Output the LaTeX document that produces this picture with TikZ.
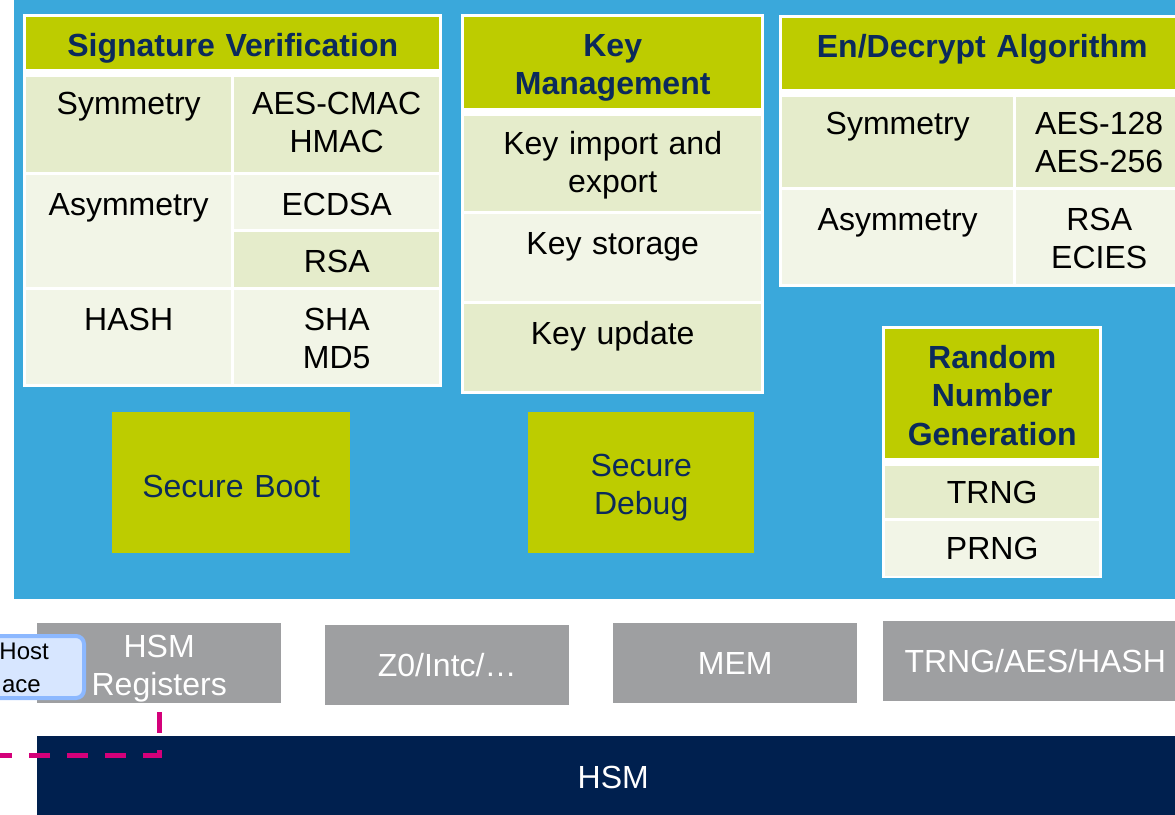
\documentclass[tikz,border=0pt]{standalone}
\usepackage{fontspec}
\setmainfont{Liberation Sans}
\definecolor{panel}{HTML}{3AA8DB}
\definecolor{hdgreen}{HTML}{BDCC00}
\definecolor{hdnavy}{HTML}{0B2A5B}
\definecolor{rowa}{HTML}{E5ECCB}
\definecolor{rowb}{HTML}{F2F5E7}
\definecolor{hwgray}{HTML}{9E9FA1}
\definecolor{barnavy}{HTML}{00204F}
\definecolor{linkpink}{HTML}{D4007A}
\definecolor{hostfill}{HTML}{D7E6FF}
\definecolor{hostline}{HTML}{8CB8FF}
\begin{document}
\begin{tikzpicture}[x=1pt, y=-1pt, every node/.style={font=\fontsize{32}{38}\selectfont}]
\tikzstyle{hd}=[anchor=north west, inner sep=0pt, fill=hdgreen, text=hdnavy, align=center, text height=39pt, font=\fontsize{32}{38.5}\selectfont\bfseries]
\tikzstyle{cell}=[anchor=north west, inner sep=0pt, align=center, text height=40pt]
\tikzstyle{row}=[anchor=north west, inner sep=0pt, align=center]
\tikzstyle{sec}=[anchor=north west, inner sep=0pt, fill=hdgreen, text=hdnavy, align=center]
\tikzstyle{hw}=[anchor=north west, inner sep=0pt, fill=hwgray, text=white, align=center, minimum width=244pt, minimum height=80pt]
\tikzstyle{link}=[linkpink, line width=5pt, dash pattern=on 21pt off 17pt]
    \clip (0,0) rectangle (1175,814);
    \fill[panel] (14,0) rectangle (1175,599);
    % signature verification
    \fill[white] (23,14) rectangle (442,387);
    \node [hd, text width=413pt, text depth=13pt] (sv) at (26,17) {Signature Verification};
    \node [cell, fill=rowa, text width=205pt, text height=37pt, text depth=58pt] (svsym) at (26,77) {Symmetry};
    \node [cell, fill=rowa, text width=205pt, text height=37pt, text depth=58pt] (svsymalg) at (234,77) {AES-CMAC\\HMAC};
    \node [cell, fill=rowb, text width=205pt, text depth=72pt] (svasym) at (26,175) {Asymmetry};
    \node [cell, fill=rowb, text width=205pt, text depth=14pt] (svecdsa) at (234,175) {ECDSA};
    \node [cell, fill=rowa, text width=205pt, text depth=15pt] (svrsa) at (234,232) {RSA};
    \node [cell, fill=rowb, text width=205pt, text depth=54pt] (svhash) at (26,290) {HASH};
    \node [cell, fill=rowb, text width=205pt, text depth=54pt] (svhashalg) at (234,290) {SHA\\MD5};
    % key management
    \fill[white] (461,14) rectangle (764,394);
    \node [hd, text width=297pt, text depth=52pt] (km) at (464,17) {Key\\Management};
    \node [cell, fill=rowa, text width=297pt, text height=38pt, text depth=57pt] (kmimp) at (464,116) {Key import and\\export};
    \node [cell, fill=rowb, text width=297pt, text depth=47pt] (kmsto) at (464,214) {Key storage};
    \node [cell, fill=rowa, text width=297pt, text depth=47pt] (kmupd) at (464,304) {Key update};
    % en/decrypt
    \fill[white] (779,15) rectangle (1185,287);
    \node [hd, text width=400pt, text depth=32pt] (ed) at (782,18) {En/Decrypt Algorithm};
    \node [cell, fill=rowa, text width=231pt, text height=37pt, text depth=53pt] (edsym) at (782,97) {Symmetry};
    \node [cell, fill=rowa, text width=166pt, text height=37pt, text depth=53pt] (edsymalg) at (1016,97) {AES-128\\AES-256};
    \node [cell, fill=rowb, text width=231pt, text depth=54pt] (edasym) at (782,190) {Asymmetry};
    \node [cell, fill=rowb, text width=166pt, text depth=54pt] (edasymalg) at (1016,190) {RSA\\ECIES};
    % random number generation
    \fill[white] (882,326) rectangle (1102,578);
    \node [hd, text width=214pt, text depth=90pt] (rng) at (885,329) {Random\\Number\\Generation};
    \node [row, fill=rowa, minimum width=214pt, minimum height=52pt] (trng) at (885,466) {TRNG};
    \node [row, fill=rowb, minimum width=214pt, minimum height=55pt] (prng) at (885,521) {PRNG};
    % secure boot / debug
    \node [sec, text width=238pt, text height=85pt, text depth=56pt] (boot) at (112,412) {Secure Boot};
    \node [sec, text width=226pt, text height=64pt, text depth=77pt] (dbg) at (528,412) {Secure\\Debug};
    % hardware
    \node [hw, text width=244pt, text height=34pt, text depth=46pt] (regs) at (37,623) {HSM\\Registers};
    \node [hw] (intc) at (325,625) {Z0/Intc/…};
    \node [hw] (mem) at (613,623) {MEM};
    \node [hw, minimum width=304pt] (acc) at (883,621) {TRNG/AES/HASH};
    \node [anchor=north west, inner sep=0pt, fill=barnavy, text=white, minimum width=1152pt, minimum height=82pt] (hsm) at (37,736) {HSM};
    % host interface
    \node [anchor=north west, draw=hostline, fill=hostfill, line width=4pt, rounded corners=8pt, minimum width=128pt, minimum height=62pt] (host) at (-46,634) {};
    \node [anchor=base east, inner sep=0pt, font=\fontsize{24}{28}\selectfont] (hosta) at (49,659) {Host};
    \node [anchor=base east, inner sep=0pt, font=\fontsize{24}{28}\selectfont] (hostb) at (41,692) {ace};
    \coordinate (hostlink) at (-10,755);
    \draw [link, shorten <=9pt] (regs.south) |- (hostlink);
\end{tikzpicture}
\end{document}
